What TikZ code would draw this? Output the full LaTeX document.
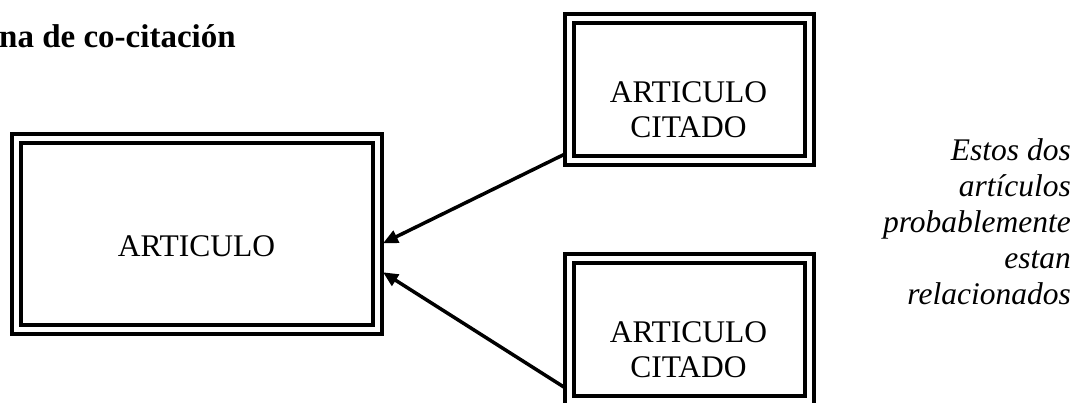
\documentclass[tikz,border=0pt]{standalone}
\usepackage{fontspec}
\setmainfont{Liberation Serif}
\usetikzlibrary{calc,arrows.meta}
\tikzset{
  dbox/.style={draw, line width=4pt, double, double distance=5pt, inner sep=0pt},
  boxtext/.style={inner sep=0pt, font=\fontsize{31.5}{33}\selectfont, align=center},
  cite/.style={line width=3.5pt, -{Triangle[length=15pt,width=13pt]}},
}
\begin{document}
\begin{tikzpicture}[x=1pt,y=-1pt]
\useasboundingbox (0,0) rectangle (1080,403);
\clip (0,0) rectangle (1080,403);
% title
\node[anchor=base west, inner sep=0pt, font=\fontsize{33}{36}\selectfont\bfseries] (title) at (-1,48) {na de co-citación};
% boxes
\node[dbox, minimum width=360.5pt, minimum height=191.5pt] (a) at (196.75,234.25) {};
\node[dbox, minimum width=239.5pt, minimum height=141.5pt] (c1) at (689.25,89.75) {};
\node[dbox, minimum width=239.5pt, minimum height=141.5pt] (c2) at (689.25,329.75) {};
% texts
\node[boxtext, anchor=base] (ta) at (196.5,257) {ARTICULO};
\node[boxtext, anchor=base] (tc1a) at (688.5,103) {ARTICULO};
\node[boxtext, anchor=base] (tc1b) at (688.5,138) {CITADO};
\node[boxtext, anchor=base] (tc2a) at (688.5,343) {ARTICULO};
\node[boxtext, anchor=base] (tc2b) at (688.5,378) {CITADO};
% note
\node[anchor=north east, inner sep=0pt, align=right, font=\fontsize{31.5}{36}\selectfont\itshape] (note) at (1071,138)
  {Estos dos\\artículos\\probablemente\\estan\\relacionados};
% connectors
\draw[cite] ($(c1.south west)+(-2.5,-8.5)$) -- ($(a.east)+(4,9)$);
\draw[cite] ($(c2.west)+(-2.5,58)$) -- ($(a.east)+(4,38)$);
\end{tikzpicture}
\end{document}
